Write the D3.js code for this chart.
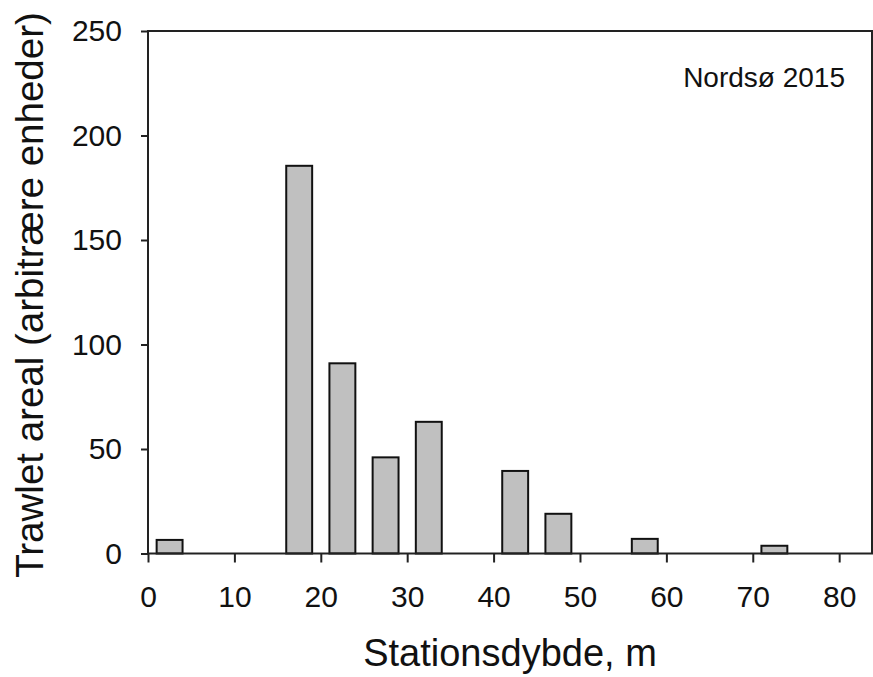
<!DOCTYPE html>
<html>
<head>
<meta charset="utf-8">
<script src="https://cdn.jsdelivr.net/npm/d3@7"></script>
<style>
	body { margin: 0; background: #fff; }
	text { font-family: "Liberation Sans", Arial, sans-serif; fill: #111; }
</style>
</head>
<body>
<div id="chart-area"></div>
<script>

// depth class midpoints (m) and trawled area (arbitrary units)
let depthMid = [2.5, 17.5, 22.5, 27.5, 32.5, 42.5, 47.5, 57.5, 72.5];
let trawlArea = [6.5, 185.5, 91, 46, 63, 39.5, 19, 7, 3.7];
let binWidth = 3;

let xTicks = [0, 10, 20, 30, 40, 50, 60, 70, 80];
let yTicks = [0, 50, 100, 150, 200, 250];

let data = depthMid.map((d, i) => ({depth: d, value: trawlArea[i]}));

let margin = {top: 31, right: 1, bottom: 123.5, left: 148};

let width = 873 - margin.left - margin.right;
let height = 677 - margin.top - margin.bottom;

let svg = d3.select("#chart-area").append("svg")
		.attr("width", 873)
		.attr("height", 677)
	.append("g")
		.attr("transform", "translate(" + margin.left + "," + margin.top + ")");

let xScale = d3.scaleLinear()
	.domain([0, 83.8])
	.range([0, width]);

let yScale = d3.scaleLinear()
	.domain([0, 250])
	.range([height, 0]);

// bars
svg.selectAll("rect.bar")
	.data(data)
	.enter()
	.append("rect")
	.attr("class", "bar")
	.attr("x", d => xScale(d.depth - binWidth / 2))
	.attr("width", d => xScale(binWidth) - xScale(0))
	.attr("y", d => yScale(d.value))
	.attr("height", d => yScale(0) - yScale(d.value))
	.attr("fill", "#c0c0c0")
	.attr("stroke", "#111")
	.attr("stroke-width", 2);

// frame
svg.append("rect")
	.attr("x", 0)
	.attr("y", 0)
	.attr("width", width)
	.attr("height", height)
	.attr("fill", "none")
	.attr("stroke", "#222")
	.attr("stroke-width", 2);

// X-axis
let xAxis = d3.axisBottom(xScale)
	.tickValues(xTicks)
	.tickSize(9)
	.tickPadding(23)
	.tickSizeOuter(0);

let xAxisGroup = svg.append("g")
	.attr("class", "x-axis")
	.attr("transform", "translate(0," + height + ")")
	.call(xAxis);

// Y-axis
let yAxis = d3.axisLeft(yScale)
	.tickValues(yTicks)
	.tickSize(7)
	.tickPadding(19)
	.tickSizeOuter(0);

let yAxisGroup = svg.append("g")
	.attr("class", "y-axis")
	.call(yAxis);

svg.selectAll(".x-axis .domain, .y-axis .domain").remove();
svg.selectAll(".tick line").attr("stroke", "#222").attr("stroke-width", 2);
svg.selectAll(".tick text")
	.style("font-family", "'Liberation Sans', Arial, sans-serif")
	.style("font-size", "30px")
	.attr("fill", "#111");

// axis titles
svg.append("text")
	.attr("x", width / 2)
	.attr("y", 666 - margin.top)
	.attr("text-anchor", "middle")
	.style("font-size", "38px")
	.text("Stationsdybde, m");

svg.append("text")
	.attr("transform", "translate(" + (43 - margin.left) + "," + (295 - margin.top) + ") rotate(-90)")
	.attr("text-anchor", "middle")
	.style("font-size", "38.5px")
	.text("Trawlet areal (arbitrære enheder)");

// panel label
svg.append("text")
	.attr("x", 845 - margin.left)
	.attr("y", 87 - margin.top)
	.attr("text-anchor", "end")
	.style("font-size", "28px")
	.text("Nordsø 2015");

</script>
</body>
</html>
